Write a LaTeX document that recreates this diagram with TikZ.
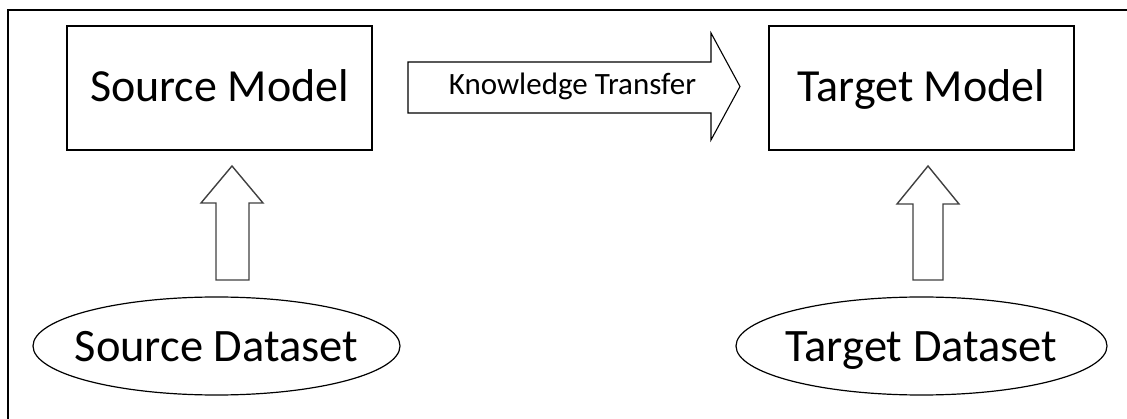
\documentclass[tikz,border=0pt]{standalone}
\usepackage{fontspec}
\setmainfont{Carlito}
\begin{document}
\begin{tikzpicture}[x=1pt,y=-1pt,
  modelbox/.style={draw=black,line width=1.2pt,rectangle,inner sep=0pt,
    minimum width=305pt,minimum height=124pt,font=\fontsize{46}{50}\selectfont,
    text height=28pt,text depth=0pt},
  datatext/.style={inner sep=0pt,font=\fontsize{46.5}{50}\selectfont,
    text height=32pt,text depth=0pt},
  ellline/.style={draw=black,line width=1.2pt},
  blockarrow/.style={draw=black,line width=1.1pt,fill=white,line join=miter},
  uparrow/.style={draw=black!75,line width=1.4pt,fill=white,line join=miter},
  frameline/.style={draw=black,line width=2pt}]
\useasboundingbox (0,0) rectangle (1127,419);
% frame (only top and left edges visible)
\draw[frameline] (8,419) -- (8,10) -- (1127,10);
% models
\node[modelbox] (sm) at (219.5,88) {Source Model};
\node[modelbox] (tm) at (921.5,88) {Target Model};
% datasets
\node[datatext] (sd) at (216.5,346) {Source Dataset};
\node[datatext] (td) at (921.5,346) {Target Dataset};
\draw[ellline] (sd.center) ellipse [x radius=183.5pt, y radius=49pt];
\draw[ellline] (td.center) ellipse [x radius=185.5pt, y radius=49pt];
% knowledge transfer block arrow
\draw[blockarrow] (408,62) -- (711,62) -- (711,33) -- (740,86.5) -- (711,140)
  -- (711,113) -- (408,113) -- cycle;
\node[anchor=base,inner sep=0pt,font=\fontsize{31}{34}\selectfont] (kt) at (572.5,95) {Knowledge Transfer};
% up arrows
\draw[uparrow] (216,280) -- (216,203) -- (201,203) -- (232,166) -- (263,203)
  -- (249,203) -- (249,280) -- cycle;
\draw[uparrow] (913,280) -- (913,204) -- (897,204) -- (928,166) -- (959,204)
  -- (943,204) -- (943,280) -- cycle;
\end{tikzpicture}
\end{document}
